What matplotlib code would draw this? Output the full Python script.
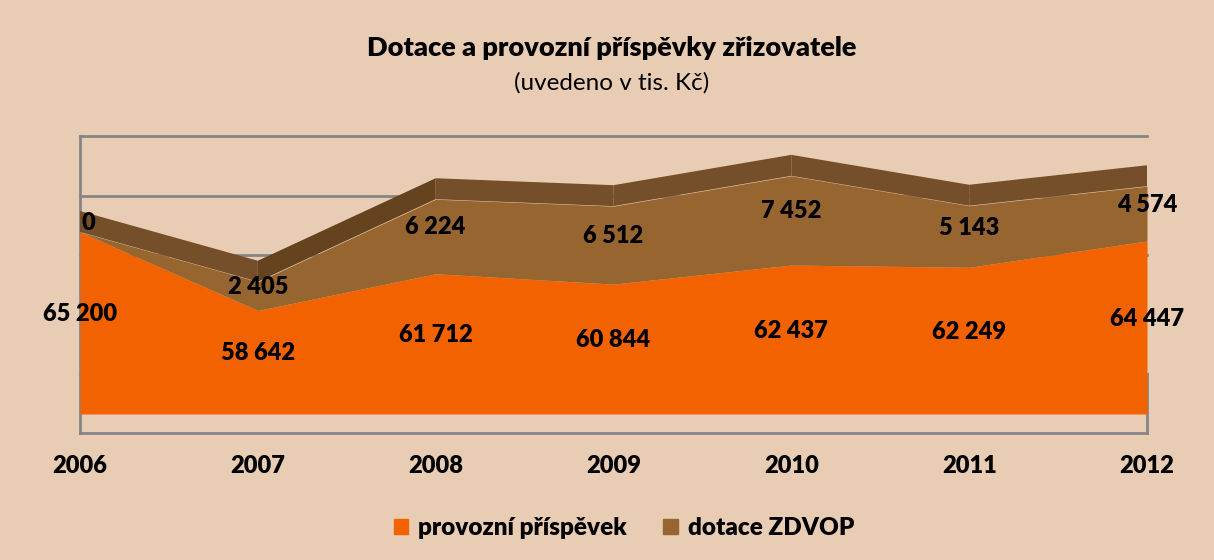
import numpy as np
import matplotlib.pyplot as plt
from matplotlib.patches import Patch

plt.rcParams['font.family'] = ['Lato', 'DejaVu Sans']

roky = ['2006', '2007', '2008', '2009', '2010', '2011', '2012']
provozni = [65200, 58642, 61712, 60844, 62437, 62249, 64447]
zdvop = [0, 2405, 6224, 6512, 7452, 5143, 4574]

c_bg = '#e8cdb4'
c_oranz = '#f26300'
c_hneda = '#97652f'
c_hrana = '#744f29'
c_hrana2 = '#65431f'
c_seda = '#858585'

ZAKLAD = 50000   # spodni hrana plochy
HLOUBKA = 1750   # "3D" hloubka horni steny
TUCNE = 'heavy'

x = np.arange(len(roky))
p = np.array(provozni)
z = np.array(zdvop)
celkem = p + z

fig = plt.figure(figsize=(12.14, 5.6), dpi=100, facecolor=c_bg)
ax = fig.add_axes([80 / 1214, 1 - 440 / 560, 1067 / 1214, 320 / 560])
ax.set_facecolor(c_bg)
ax.set_xlim(0, 6)
ax.set_ylim(47829, 74549)
for s in ax.spines.values():
    s.set_visible(False)

# zadni stena a mrizka
mrizka = 48400 + 4960 * np.arange(6)
for g in mrizka:
    ax.plot([0, 6], [g, g], color=c_seda, lw=2, zorder=1, clip_on=False)
ax.plot([0, 0], [mrizka[0], mrizka[-1]], color=c_seda, lw=2, zorder=1, clip_on=False)
ax.plot([6, 6], [mrizka[0], mrizka[1]], color=c_seda, lw=2, zorder=1, clip_on=False)

# plochy
ax.fill_between(x, ZAKLAD, p, color=c_oranz, lw=0, zorder=3)
ax.fill_between(x, p, celkem, color=c_hneda, lw=0, zorder=3)

# horni stena - po segmentech, stoupajici tmavsi
for i in range(len(x) - 1):
    xs = [x[i], x[i + 1], x[i + 1], x[i]]
    ys = [celkem[i], celkem[i + 1], celkem[i + 1] + HLOUBKA, celkem[i] + HLOUBKA]
    barva = c_hrana2 if celkem[i + 1] > celkem[i] + 3000 else c_hrana
    ax.fill(xs, ys, color=barva, lw=0, zorder=4)

# popisky hodnot
def fmt(v):
    return f'{v:,}'.replace(',', ' ')

for i in range(len(x)):
    ax.text(x[i], (ZAKLAD + p[i]) / 2 + 750, fmt(p[i]), ha='center', va='center',
            fontsize=17, fontweight=TUCNE, zorder=6, clip_on=False)
    dx = 0.045 if z[i] == 0 else 0
    ax.text(x[i] + dx, p[i] + z[i] / 2 + 750, fmt(z[i]), ha='center', va='center',
            fontsize=17, fontweight=TUCNE, zorder=6, clip_on=False)

ax.set_yticks([])
ax.set_xticks(x)
ax.set_xticklabels(roky, fontsize=17, fontweight=TUCNE)
ax.tick_params(axis='x', length=0, pad=11)

fig.text(0.504, 1 - 48 / 560, 'Dotace a provozní příspěvky zřizovatele', ha='center', va='center',
         fontsize=19.5, fontweight=TUCNE)
fig.text(0.504, 1 - 83 / 560, '(uvedeno v tis. Kč)', ha='center', va='center', fontsize=17.5)

handles = [Patch(color=c_oranz), Patch(color=c_hneda)]
leg = fig.legend(handles, ['provozní příspěvek', 'dotace ZDVOP'], loc='center',
                 bbox_to_anchor=(624 / 1214, 1 - 528 / 560), ncol=2, frameon=False,
                 prop={'weight': TUCNE, 'size': 17.5}, handlelength=0.6, handleheight=0.6,
                 handletextpad=0.4, columnspacing=1.5)

fig.savefig('out.png', dpi=100, facecolor=c_bg)
